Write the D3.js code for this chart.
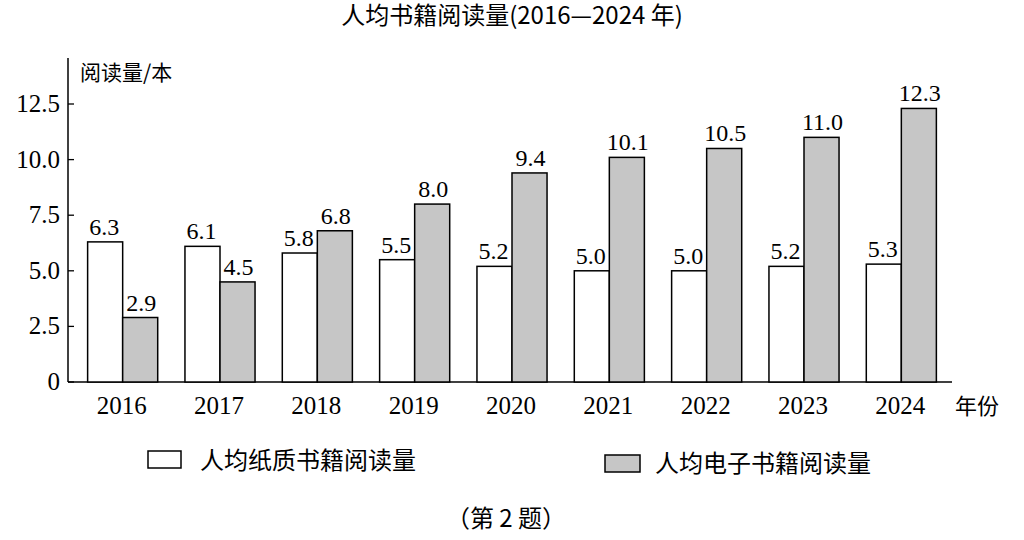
<!DOCTYPE html>
<html><head><meta charset="utf-8">
<script src="https://cdn.jsdelivr.net/npm/d3@7"></script>
<style>body{margin:0;background:#fff}</style></head>
<body><svg id="c" width="1024" height="540"></svg>
<script>
const years=["2016","2017","2018","2019","2020","2021","2022","2023","2024"];
const paper=[6.3,6.1,5.8,5.5,5.2,5.0,5.0,5.2,5.3];
const ebook=[2.9,4.5,6.8,8.0,9.4,10.1,10.5,11.0,12.3];
const yTicks=[0,2.5,5.0,7.5,10.0,12.5];
const svg=d3.select("#c");
const serif="'Liberation Serif','DejaVu Serif',serif";
const cjk="'Noto Sans CJK SC',sans-serif";
const x=d3.scaleBand().domain(years).range([73,949]).paddingInner(0.28).paddingOuter(0.14);
const y=d3.scaleLinear().domain([0,12.5]).range([382,104]);
const bw=x.bandwidth()/2;
svg.append("line").attr("x1",68).attr("x2",68).attr("y1",58).attr("y2",382).attr("stroke","#000").attr("stroke-width",1.5);
svg.append("line").attr("x1",68).attr("x2",952).attr("y1",382).attr("y2",382).attr("stroke","#000").attr("stroke-width",1.5);
yTicks.forEach(t=>{
  svg.append("line").attr("x1",68).attr("x2",74).attr("y1",y(t)).attr("y2",y(t)).attr("stroke","#000").attr("stroke-width",1.3);
  svg.append("text").attr("x",60).attr("y",y(t)+8).attr("text-anchor","end").attr("font-family",serif).attr("font-size",25).text(t===0?"0":t.toFixed(1));
});
years.forEach(yr=>{
  svg.append("text").attr("x",x(yr)+x.bandwidth()/2).attr("y",414).attr("text-anchor","middle").attr("font-family",serif).attr("font-size",25).text(yr);
});
svg.append("text").attr("x",955).attr("y",414).attr("font-family",cjk).attr("font-size",22).text("年份");
svg.append("text").attr("x",80).attr("y",80).attr("font-family",cjk).attr("font-size",21).text("阅读量/本");
const g=svg.append("g");
years.forEach((yr,i)=>{
  g.append("rect").attr("x",x(yr)+1).attr("y",y(paper[i])).attr("width",bw).attr("height",382-y(paper[i])).attr("fill","#fff").attr("stroke","#000").attr("stroke-width",1.5);
  g.append("rect").attr("x",x(yr)+bw+1).attr("y",y(ebook[i])).attr("width",bw).attr("height",382-y(ebook[i])).attr("fill","#c6c6c6").attr("stroke","#000").attr("stroke-width",1.5);
  g.append("text").attr("x",x(yr)+bw/2).attr("y",y(paper[i])-7).attr("text-anchor","middle").attr("font-family",serif).attr("font-size",24).text(paper[i].toFixed(1));
  g.append("text").attr("x",x(yr)+bw*1.5+2).attr("y",y(ebook[i])-7).attr("text-anchor","middle").attr("font-family",serif).attr("font-size",24).text(ebook[i].toFixed(1));
});
svg.append("text").attr("x",512).attr("y",24).attr("text-anchor","middle").attr("font-family",cjk).attr("font-size",24).text("人均书籍阅读量(2016—2024 年)");
svg.append("rect").attr("x",148).attr("y",451).attr("width",33).attr("height",17).attr("fill","#fff").attr("stroke","#000").attr("stroke-width",1.5);
svg.append("text").attr("x",200).attr("y",469).attr("font-family",cjk).attr("font-size",24).text("人均纸质书籍阅读量");
svg.append("rect").attr("x",605).attr("y",455).attr("width",35).attr("height",17).attr("fill","#c6c6c6").attr("stroke","#000").attr("stroke-width",1.5);
svg.append("text").attr("x",655).attr("y",472).attr("font-family",cjk).attr("font-size",24).text("人均电子书籍阅读量");
svg.append("text").attr("x",506).attr("y",527).attr("text-anchor","middle").attr("font-family",cjk).attr("font-size",24).text("（第 2 题）");
</script></body></html>
